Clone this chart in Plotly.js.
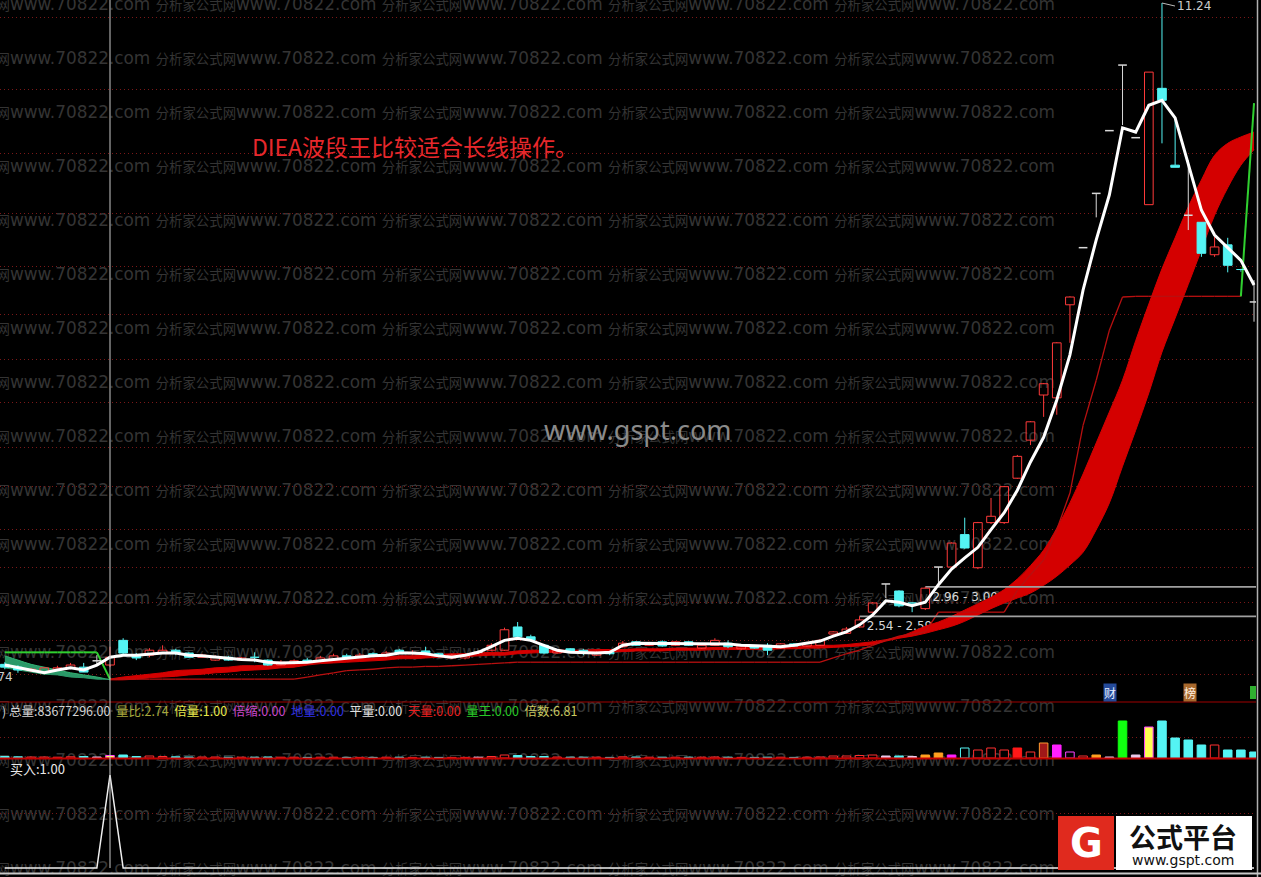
<!DOCTYPE html>
<html><head><meta charset="utf-8">
<script src="https://cdn.plot.ly/plotly-3.0.1.min.js"></script>
<style>html,body{margin:0;padding:0;background:#000;overflow:hidden}#chart{width:1261px;height:877px}</style>
</head><body><div id="chart"></div>
<script>
// ---------------- data ----------------
const openP = [1.86,1.82,1.77,1.75,1.79,1.81,1.82,1.91,1.85,2.20,
1.99,1.99,2.02,2.06,2.02,1.96,1.92,1.96,1.92,1.96,
1.92,1.85,1.88,1.92,1.91,1.93,1.98,1.96,2.01,1.98,
2.06,2.01,2.05,2.01,1.95,1.95,2.03,2.06,2.06,2.39,
2.25,2.13,2.02,2.08,2.06,1.99,2.03,2.11,2.18,2.13,
2.18,2.13,2.18,2.09,2.13,2.16,2.08,2.12,2.13,2.09,
2.15,2.12,2.13,2.29,2.30,2.39,2.60,3.00,2.90,2.73,
2.65,3.24,3.24,3.70,3.23,3.87,3.87,4.50,5.04,5.68,
5.64,6.96,7.77,8.54,9.43,10.36,9.33,8.38,10.03,8.94,
8.23,8.13,7.67,7.81,7.46,7.00];
const highP = [1.89,1.85,1.81,1.82,1.84,1.88,1.88,1.99,2.11,2.23,
2.02,2.09,2.13,2.08,2.03,2.01,1.99,1.98,1.96,2.03,
1.93,1.92,1.93,1.95,1.98,2.01,2.01,2.02,2.03,2.05,
2.08,2.06,2.11,2.02,2.01,1.99,2.06,2.16,2.38,2.46,
2.28,2.15,2.08,2.09,2.08,2.05,2.05,2.19,2.19,2.18,
2.20,2.19,2.19,2.15,2.23,2.20,2.13,2.13,2.16,2.16,
2.16,2.18,2.22,2.33,2.39,2.54,2.74,3.00,2.91,2.73,
2.96,3.24,3.59,3.94,3.88,4.22,4.39,4.83,5.31,5.85,
6.43,7.08,7.77,8.54,9.43,10.36,9.33,10.26,11.24,9.58,
9.01,8.13,7.92,7.91,7.47,7.31];
const lowP = [1.79,1.74,1.75,1.75,1.78,1.79,1.75,1.84,1.82,1.99,
1.92,1.96,2.01,1.99,1.95,1.95,1.91,1.91,1.91,1.89,
1.84,1.84,1.86,1.88,1.89,1.92,1.93,1.95,1.96,1.96,
2.01,1.99,1.99,1.96,1.93,1.93,2.01,2.05,2.05,2.23,
2.18,2.01,2.01,2.03,1.99,1.98,1.99,2.09,2.12,2.12,
2.11,2.12,2.12,2.08,2.12,2.09,2.06,2.08,1.99,2.08,
2.11,2.11,2.12,2.28,2.29,2.38,2.59,2.80,2.67,2.60,
2.63,3.00,3.23,3.50,3.21,3.85,3.85,4.49,4.97,5.37,
5.40,6.42,7.77,8.20,9.43,9.51,9.33,8.38,9.25,8.91,
8.02,7.64,7.64,7.42,7.43,6.72];
const closeP = [1.82,1.78,1.79,1.81,1.81,1.85,1.75,1.91,1.96,2.02,
1.95,2.06,2.06,2.02,1.96,1.99,1.96,1.92,1.95,1.95,
1.85,1.89,1.91,1.89,1.95,1.98,1.96,1.99,1.98,2.02,
2.02,2.03,2.01,1.98,1.99,1.98,2.03,2.13,2.35,2.25,
2.20,2.02,2.06,2.05,2.02,2.03,2.01,2.16,2.13,2.16,
2.12,2.18,2.13,2.13,2.20,2.11,2.12,2.09,2.06,2.15,
2.12,2.16,2.20,2.32,2.36,2.49,2.73,3.00,2.69,2.72,
2.94,3.24,3.58,3.51,3.87,3.96,4.38,4.81,5.30,5.84,
6.42,7.07,7.77,8.54,9.43,10.36,9.33,10.26,9.86,8.91,
8.23,7.69,7.78,7.52,7.45,7.00];
// white wave line
const waveLine = [1.85,1.81,1.77,1.74,1.78,1.81,1.78,1.85,1.96,1.99,
1.99,2.01,2.02,2.02,1.99,1.98,1.96,1.95,1.93,1.92,
1.89,1.88,1.88,1.89,1.91,1.93,1.95,1.96,1.98,1.99,
2.02,2.02,2.01,1.98,1.96,1.99,2.03,2.11,2.20,2.23,
2.20,2.13,2.06,2.03,2.02,2.02,2.03,2.13,2.16,2.16,
2.16,2.16,2.16,2.16,2.16,2.15,2.13,2.12,2.11,2.11,
2.13,2.16,2.19,2.26,2.32,2.42,2.56,2.76,2.74,2.69,
2.74,2.99,3.21,3.37,3.52,3.77,4.01,4.33,4.73,5.08,
5.61,6.25,7.17,7.88,8.52,9.47,9.41,9.79,9.86,9.61,
8.94,8.30,7.95,7.77,7.59,7.24];
// band: fast / slow lines
const fastLine = [1.81,1.78,1.75,1.72,1.71,1.68,1.67,1.65,1.65,1.68,
1.70,1.72,1.74,1.77,1.78,1.79,1.81,1.82,1.84,1.84,
1.85,1.86,1.88,1.89,1.91,1.92,1.93,1.94,1.95,1.96,
1.98,1.98,1.99,2.00,2.01,2.01,2.02,2.03,2.03,2.05,
2.06,2.06,2.06,2.06,2.06,2.07,2.07,2.07,2.08,2.08,
2.08,2.09,2.09,2.09,2.10,2.10,2.10,2.10,2.10,2.11,
2.11,2.12,2.13,2.13,2.14,2.16,2.18,2.21,2.25,2.32,
2.40,2.46,2.54,2.63,2.72,2.81,2.92,3.07,3.26,3.48,
3.79,4.15,4.56,5.00,5.44,5.89,6.45,6.97,7.47,7.91,
8.35,8.73,9.08,9.25,9.34,9.41];
const slowLine = [1.98,1.92,1.86,1.82,1.78,1.74,1.71,1.68,1.64,1.64,
1.65,1.67,1.68,1.69,1.71,1.72,1.74,1.75,1.77,1.78,
1.79,1.81,1.82,1.85,1.87,1.88,1.89,1.90,1.91,1.92,
1.94,1.94,1.95,1.96,1.97,1.97,1.98,1.99,1.99,2.01,
2.02,2.03,2.03,2.03,2.03,2.04,2.04,2.04,2.05,2.05,
2.05,2.06,2.06,2.06,2.07,2.07,2.07,2.07,2.07,2.08,
2.08,2.09,2.09,2.10,2.11,2.12,2.14,2.19,2.23,2.26,
2.30,2.35,2.40,2.47,2.56,2.65,2.73,2.80,2.87,2.98,
3.11,3.27,3.45,3.77,4.15,4.67,5.18,5.71,6.29,6.77,
7.25,7.74,8.23,8.62,8.94,9.16];
// trailing stop line
const stopLine = [2.03,2.03,2.03,2.03,2.03,2.03,2.03,2.03,1.65,1.65,
1.65,1.65,1.65,1.65,1.65,1.65,1.65,1.65,1.65,1.65,
1.65,1.65,1.65,1.68,1.71,1.74,1.77,1.78,1.79,1.81,
1.82,1.82,1.83,1.83,1.84,1.85,1.86,1.87,1.88,1.89,
1.89,1.89,1.89,1.89,1.89,1.89,1.89,1.89,1.89,1.89,
1.89,1.89,1.89,1.89,1.89,1.89,1.89,1.89,1.89,1.89,
1.89,1.89,1.89,1.95,2.01,2.06,2.13,2.20,2.26,2.29,
2.32,2.60,2.60,2.60,2.60,2.60,2.60,2.91,3.13,3.34,
3.77,4.29,5.25,5.89,6.60,7.07,7.08,7.08,7.08,7.08,
7.08,7.08,7.08,7.08,7.08,9.82];
// gaps
const gapStart = [65, 70];
const gapLow = [2.54, 2.96];
const gapHigh = [2.59, 3.00];
// volume
const volume = [15,12,10,10,8,12,15,10,25,30,
15,20,15,12,10,10,10,8,8,8,
10,8,8,6,8,8,6,6,6,8,
8,6,8,6,6,6,8,15,30,25,
15,15,10,8,8,8,6,12,10,8,
8,8,8,8,10,8,6,6,8,8,
6,8,10,20,20,25,30,20,20,15,
30,50,30,100,80,100,80,100,60,150,
130,60,20,30,10,370,30,310,370,200,
180,130,130,80,80,60];
const volType = ['d','d','u','u','u','u','d','w','y','d',
'd','u','u','d','d','u','u','d','u','d',
'd','u','u','d','u','u','d','u','d','u',
'd','u','d','d','u','u','w','u','u','d',
'd','d','u','d','d','u','d','u','d','u',
'd','u','d','u','u','d','u','d','d','u',
'd','u','u','u','u','u','u','w','d','w',
'o','o','m','ch','u','u','u','r','u','oh',
'm','mh','u','o','w','g','w','y','d','d',
'd','d','u','d','d','d'];
const volLabelNames = ['总量','量比','倍量','倍缩','地量','平量','天量','量王','倍数'];
const volLabelValues = [83677296.00, 2.74, 1.00, 0.00, 0.00, 0.00, 0.00, 0.00, 6.81];
// buy signal indicator
const buySignal = [0,0,0,0,0,0,0,0,1,0,
0,0,0,0,0,0,0,0,0,0,
0,0,0,0,0,0,0,0,0,0,
0,0,0,0,0,0,0,0,0,0,
0,0,0,0,0,0,0,0,0,0,
0,0,0,0,0,0,0,0,0,0,
0,0,0,0,0,0,0,0,0,0,
0,0,0,0,0,0,0,0,0,0,
0,0,0,0,0,0,0,0,0,0,
0,0,0,0,0,0];
const cursorIndex = 8;
const lowLabel = 1.74;
const highLabel = 11.24;
const gridPrices = [11.03,10.01,9.11,8.26,7.50,6.82,6.18,5.57,4.94,4.38,3.77,3.24,2.73,2.20,1.71];
const titleText = 'DIEA波段王比较适合长线操作。';

// ---------------- build ----------------
const N = openP.length;
const idx = Array.from({length:N}, (_, i) => i);
const W = 1261, H = 877;
const px = x => x / W, py = y => 1 - y / H;
const HW = 0.33;
const RED = '#ff3a3a', CYAN = '#54f4f4', DOJI = '#d8d8d8';

const traces = [];
// watermark (separate full-page subplot, drawn first)
const wmRows = [6,60,114,168,222,276,330,384,438,492,546,600,654,708,762,816,870];
const cj = s => '<span style="font-size:13.4px">' + s + '</span>';
const wmText = cj('网') + 'www.70822.com' + (' ' + cj('分析家公式网') + 'www.70822.com').repeat(4);
traces.push({type:'scatter', mode:'text', xaxis:'x', yaxis:'y', x: wmRows.map(() => -3.5), y: wmRows,
  text: wmRows.map(() => wmText), textposition:'middle right',
  textfont:{family:'DejaVu Sans, Noto Sans CJK SC', size:16.9, color:'#343434'}, hoverinfo:'skip'});

const M = {xaxis:'x2', yaxis:'y2', hoverinfo:'skip', showlegend:false};
// gap labels (under the band)
traces.push(Object.assign({type:'scatter', mode:'text', x: gapStart.map(s => s + 0.55), y: gapLow.map(v => v - 0.155),
  text: gapLow.map((v, k) => v.toFixed(2) + ' - ' + gapHigh[k].toFixed(2)), textposition:'middle right',
  textfont:{family:'DejaVu Sans', size:12, color:'#d8d8d8'}}, M));

// band
let cross = idx.find(i => fastLine[i] >= slowLine[i]);
const gIdx = idx.slice(0, cross + 1), rIdx = idx.slice(cross);
traces.push(Object.assign({type:'scatter', mode:'lines', x:gIdx, y:gIdx.map(i => slowLine[i]), line:{color:'#32b070', width:1, shape:'spline'}}, M));
traces.push(Object.assign({type:'scatter', mode:'lines', x:gIdx, y:gIdx.map(i => fastLine[i]), fill:'tonexty', fillcolor:'#2a9868', line:{color:'#2a9868', width:1, shape:'spline'}}, M));
traces.push(Object.assign({type:'scatter', mode:'lines', x:rIdx, y:rIdx.map(i => slowLine[i]), line:{color:'#d40000', width:1, shape:'spline'}}, M));
traces.push(Object.assign({type:'scatter', mode:'lines', x:rIdx, y:rIdx.map(i => fastLine[i]), fill:'tonexty', fillcolor:'#d40000', line:{color:'#d40000', width:1, shape:'spline'}}, M));

// stop line split red / green
const isGreen = i => stopLine[i] > closeP[i];
const sr = {x:[], y:[]}, sg = {x:[], y:[]};
for (let i = 0; i < N - 1; i++) {
  const t = (isGreen(i) || isGreen(i + 1)) ? sg : sr;
  t.x.push(i, i + 1, null); t.y.push(stopLine[i], stopLine[i + 1], null);
}
traces.push(Object.assign({type:'scatter', mode:'lines', x:sr.x, y:sr.y, line:{color:'#b81010', width:1.3}}, M));
traces.push(Object.assign({type:'scatter', mode:'lines', x:sg.x, y:sg.y, line:{color:'#30d030', width:2}}, M));

// gap lines
const gl = {x:[], y:[]};
gapStart.forEach((s, k) => { gl.x.push(s, N + 1, null); gl.y.push(gapLow[k], gapLow[k], null); });
traces.push(Object.assign({type:'scatter', mode:'lines', x:gl.x, y:gl.y, line:{color:'#a0a0a0', width:1.8}}, M));

// candles
const wU = {x:[], y:[]}, wD = {x:[], y:[]}, wZ = {x:[], y:[]};
const bU = {x:[], y:[]}, bD = {x:[], y:[]}, bZ = {x:[], y:[]};
for (let i = 0; i < N; i++) {
  const o = openP[i], c = closeP[i], h = highP[i], l = lowP[i];
  const top = Math.max(o, c), bot = Math.min(o, c);
  if (c > o) {
    wU.x.push(i, i, null, i, i, null); wU.y.push(h, top, null, bot, l, null);
    bU.x.push(i - HW, i + HW, i + HW, i - HW, i - HW, null); bU.y.push(o, o, c, c, o, null);
  } else if (c < o) {
    wD.x.push(i, i, null, i, i, null); wD.y.push(h, top, null, bot, l, null);
    bD.x.push(i - HW, i + HW, i + HW, i - HW, i - HW, null); bD.y.push(o, o, c, c, o, null);
  } else {
    wZ.x.push(i, i, null); wZ.y.push(h, l, null);
    bZ.x.push(i - HW, i + HW, null); bZ.y.push(o, o, null);
  }
}
traces.push(Object.assign({type:'scatter', mode:'lines', x:wU.x, y:wU.y, line:{color:RED, width:1}}, M));
traces.push(Object.assign({type:'scatter', mode:'lines', x:wD.x, y:wD.y, line:{color:CYAN, width:1}}, M));
traces.push(Object.assign({type:'scatter', mode:'lines', x:wZ.x, y:wZ.y, line:{color:DOJI, width:1}}, M));
traces.push(Object.assign({type:'scatter', mode:'lines', x:bU.x, y:bU.y, line:{color:RED, width:1}}, M));
traces.push(Object.assign({type:'scatter', mode:'lines', x:bD.x, y:bD.y, fill:'toself', fillcolor:CYAN, line:{color:CYAN, width:1}}, M));
traces.push(Object.assign({type:'scatter', mode:'lines', x:bZ.x, y:bZ.y, line:{color:DOJI, width:1.5}}, M));

// white wave line
traces.push(Object.assign({type:'scatter', mode:'lines', x:idx, y:waveLine, line:{color:'#ffffff', width:3}}, M));

// volume
const volStyle = {
  u:['#000000','#ff3030'], d:[CYAN, CYAN], r:['#ff1818','#ff1818'], m:['#ff20ff','#ff20ff'],
  mh:['#000000','#ff40ff'], o:['#ffa020','#ffa020'], oh:['#a01818','#ff9a30'], g:['#10ff10','#10ff10'],
  y:['#ffff50','#ff40ff'], w:['#e8c8e8','#e8c8e8'], ch:['#000000', CYAN]
};
traces.push({type:'bar', xaxis:'x3', yaxis:'y3', x:idx, y:volume, width:0.65, hoverinfo:'skip',
  marker:{color: volType.map(t => volStyle[t][0]), line:{color: volType.map(t => volStyle[t][1]), width:1}}});

// indicator
traces.push({type:'scatter', mode:'lines', xaxis:'x4', yaxis:'y4', x:idx, y:buySignal, hoverinfo:'skip',
  line:{color:'#f0f0f0', width:1.5}});

const xRange = [-0.365, 95.15];
const xDom = [0, 1256 / W];
const hidX = {range:xRange, domain:xDom, visible:false, fixedrange:true};
const gridY = {showticklabels:false, ticks:'', zeroline:false, showline:false, gridcolor:'#7a1818', griddash:'1px,3px', gridwidth:1, tickmode:'array', fixedrange:true};

const volLabel = '<span style="color:#cfcfcf">)\u00a0</span>' + volLabelNames.map((n, k) => {
  const colors = ['#d4d4d4','#a8a83c','#e8e84c','#c846c8','#3030e0','#e0e0e0','#e82020','#28c828','#c8c860'];
  return '<span style="color:' + colors[k] + '">' + n + ':' + volLabelValues[k].toFixed(2) + '</span>';
}).join('\u00a0\u00a0');

const layout = {
  width: W, height: H, margin:{l:0, r:0, t:0, b:0}, paper_bgcolor:'#000000', plot_bgcolor:'rgba(0,0,0,0)',
  showlegend:false, hovermode:false,
  font:{family:'Noto Sans CJK SC, DejaVu Sans', color:'#dddddd'},
  xaxis:{domain:[0,1], range:[0, W], visible:false, fixedrange:true},
  yaxis:{domain:[0,1], range:[H, 0], visible:false, fixedrange:true},
  xaxis2:Object.assign({anchor:'y2'}, hidX),
  yaxis2:Object.assign({anchor:'x2', domain:[py(700), 1], range:[1.354, 11.283], tickvals:gridPrices}, gridY),
  xaxis3:Object.assign({anchor:'y3'}, hidX),
  yaxis3:Object.assign({anchor:'x3', domain:[py(758), py(703)], range:[0, 550], tickvals:[210]}, gridY),
  xaxis4:Object.assign({anchor:'y4'}, hidX),
  yaxis4:Object.assign({anchor:'x4', domain:[py(870), py(760)], range:[-0.0215, 1.1613], tickvals:[0.59]}, gridY),
  shapes:[
    {type:'line', xref:'paper', yref:'paper', x0:0, x1:xDom[1], y0:py(702), y1:py(702), line:{color:'#a00000', width:1}},
    {type:'line', xref:'paper', yref:'paper', x0:0, x1:xDom[1], y0:py(758.5), y1:py(758.5), line:{color:'#c00000', width:2}},
    {type:'line', xref:'x2', yref:'paper', x0:cursorIndex, x1:cursorIndex, y0:py(868), y1:1, line:{color:'#c8c8c8', width:1}},
    {type:'line', xref:'paper', yref:'paper', x0:px(1257.5), x1:px(1257.5), y0:0, y1:1, line:{color:'#b0b0b0', width:1.5}},
    {type:'line', xref:'paper', yref:'paper', x0:0, x1:1, y0:py(873.5), y1:py(873.5), line:{color:'#c8c8c8', width:2}},
    {type:'rect', xref:'paper', yref:'paper', x0:px(1250), x1:px(1256), y0:py(699), y1:py(686), fillcolor:'#30b030', line:{width:0}},
    {type:'rect', xref:'paper', yref:'paper', x0:px(1116), x1:px(1252), y0:py(870), y1:py(816), fillcolor:'#ffffff', line:{width:0}},
    {type:'rect', xref:'paper', yref:'paper', x0:px(1058), x1:px(1114), y0:py(870), y1:py(816), fillcolor:'#e02a1e', line:{width:0}}
  ],
  annotations:[
    {xref:'paper', yref:'paper', x:px(250), y:py(146), xanchor:'left', yanchor:'middle', showarrow:false,
      text:titleText, font:{family:'Noto Sans CJK SC', size:23, color:'#e8282c'}},
    {xref:'paper', yref:'paper', x:px(638), y:py(429), xanchor:'center', yanchor:'middle', showarrow:false,
      text:'www.gspt.com', font:{family:'Noto Sans', size:27, color:'#8a8a8a'}},
    {xref:'paper', yref:'paper', x:px(15), y:py(677), xanchor:'right', yanchor:'middle', showarrow:false,
      text:lowLabel.toFixed(2), font:{family:'DejaVu Sans', size:12, color:'#cccccc'}},
    {xref:'x2', yref:'y2', x:idx[highP.indexOf(highLabel)], y:highLabel, ax:13, ay:3, xanchor:'left', yanchor:'middle',
      showarrow:true, arrowhead:0, arrowwidth:1, arrowcolor:'#bbbbbb', standoff:0,
      text:highLabel.toFixed(2), font:{family:'DejaVu Sans', size:12, color:'#cccccc'}},
    {xref:'paper', yref:'paper', x:0, y:py(710), xanchor:'left', yanchor:'middle', showarrow:false,
      text:volLabel, font:{family:'Noto Sans CJK SC', size:12.5}},
    {xref:'paper', yref:'paper', x:px(8), y:py(768), xanchor:'left', yanchor:'middle', showarrow:false,
      text:'买入:' + Math.max(...buySignal).toFixed(2), font:{family:'Noto Sans CJK SC', size:13, color:'#e8e8e8'}},
    {xref:'paper', yref:'paper', x:px(1110), y:py(692.5), xanchor:'center', yanchor:'middle', showarrow:false,
      text:'财', bgcolor:'#244a9a', borderpad:0, font:{family:'Noto Sans CJK SC', size:12, color:'#e8eeff'}},
    {xref:'paper', yref:'paper', x:px(1190), y:py(692.5), xanchor:'center', yanchor:'middle', showarrow:false,
      text:'榜', bgcolor:'#a8682c', borderpad:0, font:{family:'Noto Sans CJK SC', size:12, color:'#fff0e0'}},
    {xref:'paper', yref:'paper', x:px(1086), y:py(843), xanchor:'center', yanchor:'middle', showarrow:false,
      text:'<b>G</b>', font:{family:'DejaVu Sans', size:40, color:'#ffffff'}},
    {xref:'paper', yref:'paper', x:px(1183), y:py(836), xanchor:'center', yanchor:'middle', showarrow:false,
      text:'<b>公式平台</b>', font:{family:'Noto Sans CJK SC', size:27, color:'#111111'}},
    {xref:'paper', yref:'paper', x:px(1183), y:py(860), xanchor:'center', yanchor:'middle', showarrow:false,
      text:'www.gspt.com', font:{family:'DejaVu Sans', size:14, color:'#111111'}}
  ]
};
Plotly.newPlot('chart', traces, layout, {staticPlot:true, displayModeBar:false});
</script>
</body></html>
